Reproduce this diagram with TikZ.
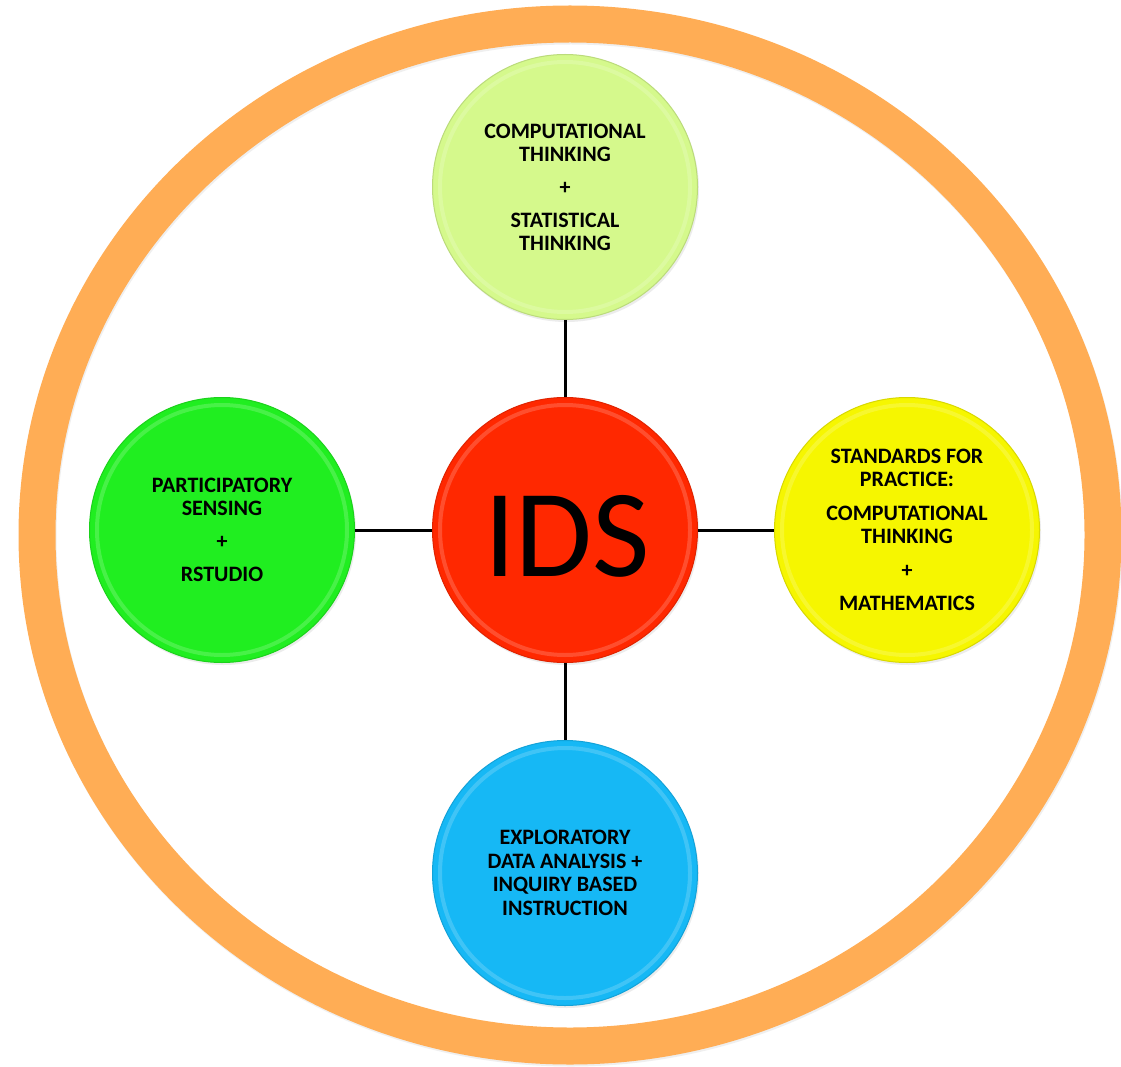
\documentclass[tikz,border=0pt]{standalone}
\usepackage{fontspec}
\setmainfont{Carlito}
\usetikzlibrary{shadows}
\definecolor{ringorange}{RGB}{255,173,85}
\definecolor{cpale}{RGB}{213,249,140}
\definecolor{cgreen}{RGB}{32,238,32}
\definecolor{cred}{RGB}{255,40,0}
\definecolor{cyellow}{RGB}{246,246,0}
\definecolor{cblue}{RGB}{22,184,245}
\begin{document}
\begin{tikzpicture}[x=1pt,y=-1pt,
  disc/.style={circle, minimum size=265pt, inner sep=0pt, align=center,
    font=\bfseries\fontsize{22}{23}\selectfont, text=black, line width=1pt,
    drop shadow={opacity=0.15, shadow xshift=1.5pt, shadow yshift=-2.5pt}},
  link/.style={line width=3pt, black},
  bevel/.style={line width=4pt, white, opacity=0.18}]
\useasboundingbox (0,0) rectangle (1121,1067);
\fill[white] (0,0) rectangle (1121,1067);
% outer ring
\draw[black!40, opacity=0.15, line width=37pt] (571,537) ellipse [x radius=533pt, y radius=511pt];
\draw[ringorange, line width=37pt] (570,535) ellipse [x radius=533pt, y radius=511pt];
% discs
\node[disc, fill=cpale, draw=cpale!88!black] (tp) at (565,187)
  {COMPUTATIONAL\\THINKING\\[10pt]+\\[10pt]STATISTICAL\\THINKING};
\node[disc, fill=cred, draw=cred!88!black] (ids) at (565,530) {};
\node[font=\fontsize{125}{125}\selectfont] (idstext) at (567,536) {IDS};
\node[disc, fill=cgreen, draw=cgreen!88!black] (lt) at (222,530)
  {PARTICIPATORY\\SENSING\\[10pt]+\\[10pt]RSTUDIO};
\node[disc, fill=cyellow, draw=cyellow!88!black] (rt) at (907,530)
  {STANDARDS FOR\\PRACTICE:\\[11pt]COMPUTATIONAL\\THINKING\\[11pt]+\\[10pt]MATHEMATICS};
\node[disc, fill=cblue, draw=cblue!88!black, font=\bfseries\fontsize{22}{23.7}\selectfont] (bt) at (565,873)
  {EXPLORATORY\\DATA ANALYSIS +\\INQUIRY BASED\\INSTRUCTION};
\foreach \n in {tp,ids,lt,rt,bt} \draw[bevel] (\n.center) circle[radius=125pt];
% connectors
\draw[link] (ids) -- (tp);
\draw[link] (ids) -- (bt);
\draw[link] (ids) -- (lt);
\draw[link] (ids) -- (rt);
\end{tikzpicture}
\end{document}
